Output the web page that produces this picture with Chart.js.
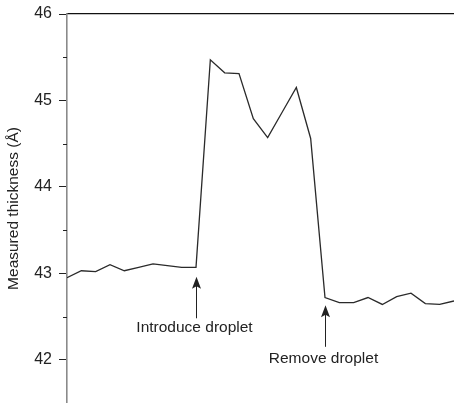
<!DOCTYPE html>
<html>
<head>
<meta charset="utf-8">
<script src="https://cdn.jsdelivr.net/npm/chart.js@4/dist/chart.umd.min.js"></script>
<style>
html,body{margin:0;padding:0;background:#fff;}
#wrap{width:454px;height:403px;}
</style>
</head>
<body>
<div id="wrap"><canvas id="c" width="454" height="403"></canvas></div>
<script>
// ---- data ----
const xIndex = [0,1,2,3,4,5,6,7,8,9,10,11,12,13,14,15,16,17,18,19,20,21,22,23,24,25,26,27];
const thickness = [42.95, 43.03, 43.02, 43.10, 43.03, 43.07, 43.11, 43.09, 43.07, 43.07,
                   45.47, 45.32, 45.31, 44.79, 44.57, 44.86, 45.15, 44.56,
                   42.72, 42.66, 42.66, 42.72, 42.64, 42.73, 42.77, 42.65, 42.64, 42.68];
const yMajorTicks = [42, 43, 44, 45, 46];
const yMinorTicks = [42.5, 43.5, 44.5, 45.5];
const annoLabels = ['Introduce droplet', 'Remove droplet'];
const annoIndex = [9, 18];
const annoTip = [42.96, 42.63];
const annoTail = [42.48, 42.15];
const annoText = [42.37, 42.01];

const FONT = '"Liberation Sans", Arial, sans-serif';
const TEXT = '#222';

const annotate = {
  id: 'annotate',
  afterDatasetsDraw(chart) {
    const {ctx, scales} = chart;
    const x = scales.x, y = scales.y;
    ctx.save();
    // minor ticks
    ctx.strokeStyle = '#222';
    ctx.lineWidth = 1;
    yMinorTicks.forEach(v => {
      const py = Math.round(y.getPixelForValue(v)) + 0.5;
      ctx.beginPath();
      ctx.moveTo(chart.chartArea.left - 4, py);
      ctx.lineTo(chart.chartArea.left, py);
      ctx.stroke();
    });
    // arrows + labels
    annoLabels.forEach((t, i) => {
      const px = Math.round(x.getPixelForValue(annoIndex[i])) + 0.5;
      const tipY = y.getPixelForValue(annoTip[i]);
      const tailY = y.getPixelForValue(annoTail[i]);
      ctx.strokeStyle = '#222';
      ctx.fillStyle = '#222';
      ctx.lineWidth = 1;
      ctx.beginPath();
      ctx.moveTo(px, tailY);
      ctx.lineTo(px, tipY + 6);
      ctx.stroke();
      ctx.beginPath();
      ctx.moveTo(px, tipY);
      ctx.lineTo(px - 4.5, tipY + 12);
      ctx.lineTo(px, tipY + 9.5);
      ctx.lineTo(px + 4.5, tipY + 12);
      ctx.closePath();
      ctx.fill();
      ctx.font = '15.5px ' + FONT;
      ctx.fillStyle = TEXT;
      ctx.textAlign = 'center';
      ctx.textBaseline = 'middle';
      ctx.fillText(t, px - 2, y.getPixelForValue(annoText[i]));
    });
    ctx.restore();
  }
};

new Chart(document.getElementById('c'), {
  type: 'line',
  data: {
    labels: xIndex,
    datasets: [{
      data: xIndex.map((v, i) => ({x: v, y: thickness[i]})),
      borderColor: '#2a2a2a',
      borderWidth: 1.3,
      pointRadius: 0,
      tension: 0,
      fill: false
    }]
  },
  options: {
    responsive: false,
    animation: false,
    devicePixelRatio: 1,
    layout: {padding: {top: 14, right: 0, bottom: 0, left: 0}},
    plugins: {legend: {display: false}, tooltip: {enabled: false}},
    scales: {
      x: {
        type: 'linear',
        position: 'top',
        min: 0,
        max: 27,
        ticks: {display: false},
        grid: {display: false, drawTicks: false},
        border: {display: true, color: '#111', width: 1.3},
        afterFit: s => { s.height = 0; s.paddingLeft = 0; s.paddingRight = 0; }
      },
      y: {
        min: 41.5,
        max: 46,
        afterBuildTicks: s => { s.ticks = yMajorTicks.map(v => ({value: v})); },
        afterFit: s => { s.width = 67; s.paddingTop = 0; s.paddingBottom = 0; },
        ticks: {
          color: TEXT,
          font: {family: FONT, size: 16},
          padding: 7,
          callback: v => String(v)
        },
        grid: {drawOnChartArea: false, drawTicks: true, tickLength: 8, tickColor: '#222', tickWidth: 1},
        border: {display: true, color: '#8a8a8a', width: 1.6},
        title: {
          display: true,
          text: 'Measured thickness (Å)',
          color: TEXT,
          font: {family: FONT, size: 15.5},
          padding: {top: 4, bottom: 0}
        }
      }
    }
  },
  plugins: [annotate]
});
</script>
</body>
</html>
